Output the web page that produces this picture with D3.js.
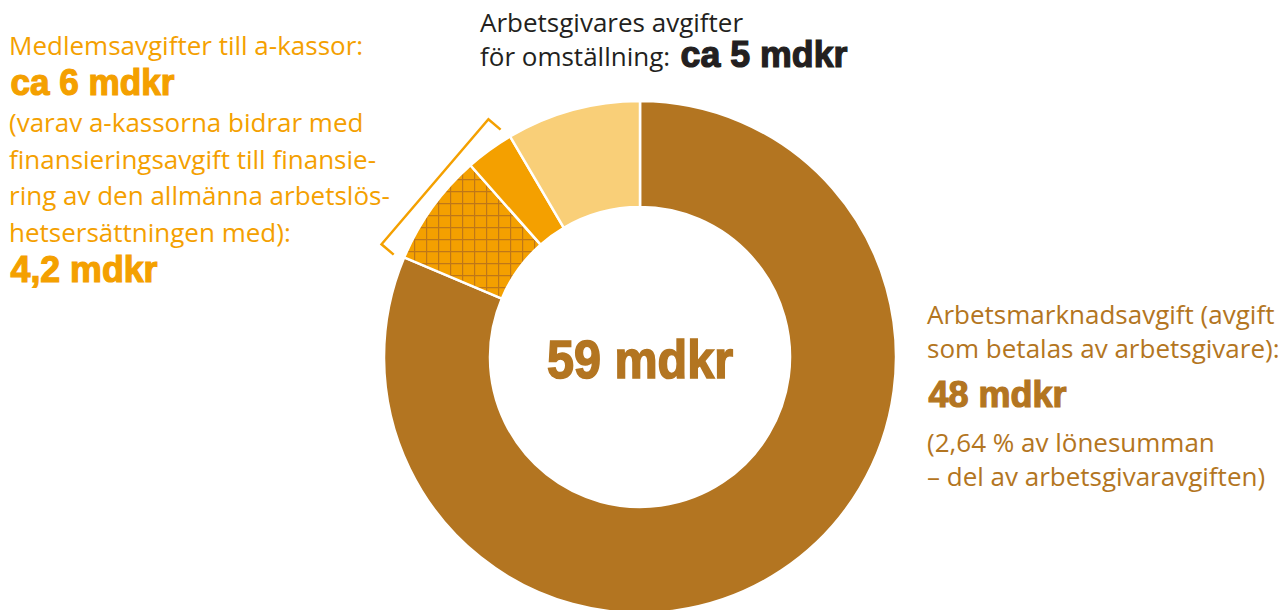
<!DOCTYPE html>
<html>
<head>
<meta charset="utf-8">
<script src="https://cdn.jsdelivr.net/npm/d3@7.9.0/dist/d3.min.js"></script>
<style>
  body { margin: 0; background: #fff; }
  svg { display: block; }
  .body { font-family: "Open Sans", "Noto Sans", sans-serif; font-size: 26px; }
  .big { font-family: "Liberation Sans", Arial, sans-serif; font-weight: bold; font-size: 36px; }
</style>
</head>
<body>
<svg id="chart" width="1287" height="610"></svg>
<script>
// values in mdkr, clockwise from 12 o'clock
const segments = ["Arbetsmarknadsavgift", "Finansieringsavgift", "Övriga medlemsavgifter", "Arbetsgivares avgifter för omställning"];
const values = [48, 4.2, 1.8, 5];
const total = "59 mdkr";

const leftLines = ["Medlemsavgifter till a-kassor:"];
const leftBig1 = "ca 6 mdkr";
const leftMore = ["(varav a-kassorna bidrar med", "finansieringsavgift till finansie-", "ring av den allmänna arbetslös-", "hetsersättningen med):"];
const leftBig2 = "4,2 mdkr";

const topLines = ["Arbetsgivares avgifter", "för omställning:"];
const topBig = "ca 5 mdkr";

const rightLines = ["Arbetsmarknadsavgift (avgift", "som betalas av arbetsgivare):"];
const rightBig = "48 mdkr";
const rightMore = ["(2,64 % av lönesumman", "– del av arbetsgivaravgiften)"];

const brown = "#b37521", orange = "#f4a000", light = "#f9cf78", dark = "#231f20";
const colors = d3.scaleOrdinal().domain(segments).range([brown, "url(#hatch)", orange, light]);

const svg = d3.select("#chart");
const cx = 640, cy = 357, outerR = 256, innerR = 150;

// cross hatch pattern
const pat = svg.append("defs").append("pattern")
  .attr("id", "hatch").attr("patternUnits", "userSpaceOnUse")
  .attr("width", 12).attr("height", 12)
  .attr("x", 2).attr("y", 2);
pat.append("rect").attr("width", 12).attr("height", 12).attr("fill", orange);
pat.append("path").attr("d", "M0.5,0V12M0,0.5H12")
  .attr("stroke", "#bf7718").attr("stroke-width", 1.4).attr("fill", "none");

let pie = d3.pie().sort(null).value(d => d.value);
let arcData = pie(segments.map((s, i) => ({ label: s, value: values[i] })));
let arcGen = d3.arc().innerRadius(innerR).outerRadius(outerR);

const g = svg.append("g").attr("transform", `translate(${cx},${cy})`);
g.selectAll("path")
  .data(arcData)
  .join("path")
  .attr("d", arcGen)
  .attr("fill", d => colors(d.data.label))
  .attr("stroke", "#fff")
  .attr("stroke-width", 2.5)
  .attr("stroke-linejoin", "round");

// bracket around the two a-kassa slices
let a0 = arcData[1].startAngle + 0.012, a1 = arcData[2].endAngle - 0.035;
let br = 282, tick = 16;
let pt = a => [br * Math.sin(a), -br * Math.cos(a)];
let p0 = pt(a0), p1 = pt(a1);
let dx = p1[0] - p0[0], dy = p1[1] - p0[1], len = Math.hypot(dx, dy);
let nx = dy / len, ny = -dx / len; // normal
if (nx * p0[0] + ny * p0[1] > 0) { nx = -nx; ny = -ny; } // point inward
g.append("path")
  .attr("d", `M${p0[0] + nx * tick},${p0[1] + ny * tick}L${p0[0]},${p0[1]}L${p1[0]},${p1[1]}L${p1[0] + nx * tick},${p1[1] + ny * tick}`)
  .attr("fill", "none").attr("stroke", orange).attr("stroke-width", 2.5);

// centre total
g.append("text").attr("class", "big")
  .attr("x", -93).attr("y", 21)
  .style("font-size", "53px")
  .attr("textLength", 186).attr("lengthAdjust", "spacingAndGlyphs")
  .attr("fill", brown).attr("stroke", brown).attr("stroke-width", 1.6)
  .text(total);

function big(x, y, txt, color, w) {
  svg.append("text").attr("class", "big").attr("x", x).attr("y", y)
    .attr("textLength", w).attr("lengthAdjust", "spacingAndGlyphs")
    .attr("fill", color).attr("stroke", color).attr("stroke-width", 1.2)
    .text(txt);
}
function lines(x, y0, step, arr, color) {
  svg.append("text").attr("class", "body").attr("fill", color)
    .selectAll("tspan").data(arr).join("tspan")
    .attr("x", x).attr("y", (d, i) => y0 + i * step)
    .text(d => d);
}

// left block
lines(9, 55, 36.7, leftLines, orange);
big(10.5, 95, leftBig1, orange, 164);
lines(9, 132, 36.7, leftMore, orange);
big(10.5, 282, leftBig2, orange, 147);

// top block
lines(480, 32, 34, topLines, dark);
big(680.5, 67, topBig, dark, 167);

// right block
lines(927, 324, 33.5, rightLines, brown);
big(928.5, 407, rightBig, brown, 138);
lines(927, 452, 33.5, rightMore, brown);
</script>
</body>
</html>
